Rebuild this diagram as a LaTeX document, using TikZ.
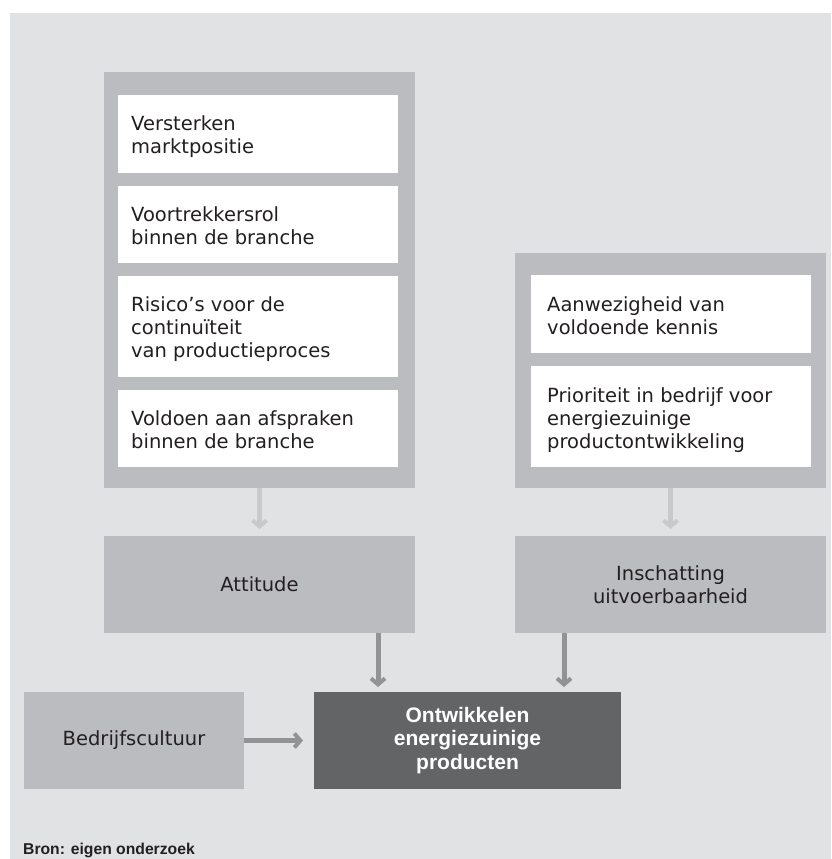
\documentclass[tikz,border=0pt]{standalone}
\usepackage{fontspec}
\setmainfont{DejaVu Sans}
\newfontfamily\libsans{Liberation Sans}
\usetikzlibrary{arrows.meta,calc}
\definecolor{bgc}{RGB}{225,226,228}
\definecolor{grpc}{RGB}{187,188,191}
\definecolor{darkc}{RGB}{99,100,102}
\definecolor{arrlight}{RGB}{200,201,203}
\definecolor{arrdark}{RGB}{146,147,149}
\definecolor{txtc}{RGB}{35,31,32}
\tikzset{
  box/.style={inner sep=0pt, outer sep=0pt, anchor=north west, draw=none},
  grp/.style={box, fill=grpc},
  wbox/.style={box, fill=white},
  wtext/.style={inner sep=0pt, anchor=north west, align=left, text=txtc,
    font=\fontsize{19.5}{23.3}\selectfont},
  gtext/.style={align=center, text=txtc, font=\fontsize{19.5}{23.3}\selectfont},
  darkbox/.style={box, fill=darkc, text=white, align=center,
    font=\libsans\bfseries\fontsize{21}{23.5}\selectfont},
  toparrow/.style={draw=arrlight, line width=5pt,
    -{Straight Barb[length=6pt,width=14pt,line width=4pt]}},
  botarrow/.style={draw=arrdark, line width=5pt,
    -{Straight Barb[length=6pt,width=14pt,line width=4pt]}},
}
\begin{document}
\begin{tikzpicture}[x=1pt,y=-1pt]
\useasboundingbox (0,0) rectangle (831,859);
\fill[bgc] (10,13) rectangle (831,859);
% left group
\node[grp, minimum width=311pt, minimum height=416pt] (g1) at (104,72) {};
\node[wbox, minimum width=280pt, minimum height=78pt] (v1) at (118,95) {};
\node[wbox, minimum width=280pt, minimum height=77pt] (v2) at (118,186) {};
\node[wbox, minimum width=280pt, minimum height=101pt] (v3) at (118,276) {};
\node[wbox, minimum width=280pt, minimum height=77pt] (v4) at (118,390) {};
\node[wtext] (t1) at ($(v1.north west)+(13,20)$) {Versterken\\marktpositie};
\node[wtext] (t2) at ($(v2.north west)+(13,20)$) {Voortrekkersrol\\binnen de branche};
\node[wtext] (t3) at ($(v3.north west)+(13,20)$) {Risico’s voor de\\continuïteit\\van productieproces};
\node[wtext] (t4) at ($(v4.north west)+(13,20)$) {Voldoen aan afspraken\\binnen de branche};
% right group
\node[grp, minimum width=311pt, minimum height=235pt] (g2) at (515,253) {};
\node[wbox, minimum width=280pt, minimum height=78pt] (k1) at (531,275) {};
\node[wbox, minimum width=280pt, minimum height=101pt] (k2) at (531,366) {};
\node[wtext] (s1) at ($(k1.north west)+(16,21)$) {Aanwezigheid van\\voldoende kennis};
\node[wtext] (s2) at ($(k2.north west)+(16,21)$) {Prioriteit in bedrijf voor\\energiezuinige\\productontwikkeling};
% middle boxes
\node[grp, minimum width=311pt, minimum height=97pt] (att) at (104,536) {};
\node[gtext] (attt) at (att.center) {Attitude};
\node[grp, minimum width=311pt, minimum height=97pt] (ins) at (515,536) {};
\node[gtext] (inst) at (ins.center) {Inschatting\\uitvoerbaarheid};
% bottom boxes
\node[grp, minimum width=220pt, minimum height=97pt] (bed) at (24,692) {};
\node[gtext] (bedt) at (bed.center) {Bedrijfscultuur};
\node[darkbox, minimum width=307pt, minimum height=97pt] (ont) at (314,692) {};
\node[darkbox, anchor=center, fill=none, minimum width=0pt, minimum height=0pt] (ontt) at (ont.center) {Ontwikkelen\\energiezuinige\\producten};
% arrows
\draw[toparrow, shorten >=7pt] (g1.south) -- (att.north);
\draw[toparrow, shorten >=7pt] (g2.south) -- (ins.north);
\draw[botarrow, shorten >=5pt] (att.south -| 378,0) -- (ont.north -| 378,0);
\draw[botarrow, shorten >=5pt] (ins.south -| 564,0) -- (ont.north -| 564,0);
\draw[botarrow, shorten >=11pt] (bed.east) -- (ont.west);
% source
\node[inner sep=0pt, anchor=base west, text=txtc, font=\libsans\bfseries\fontsize{15.7}{18}\selectfont] (src) at (23,854) {Bron: eigen onderzoek};
\end{tikzpicture}
\end{document}
